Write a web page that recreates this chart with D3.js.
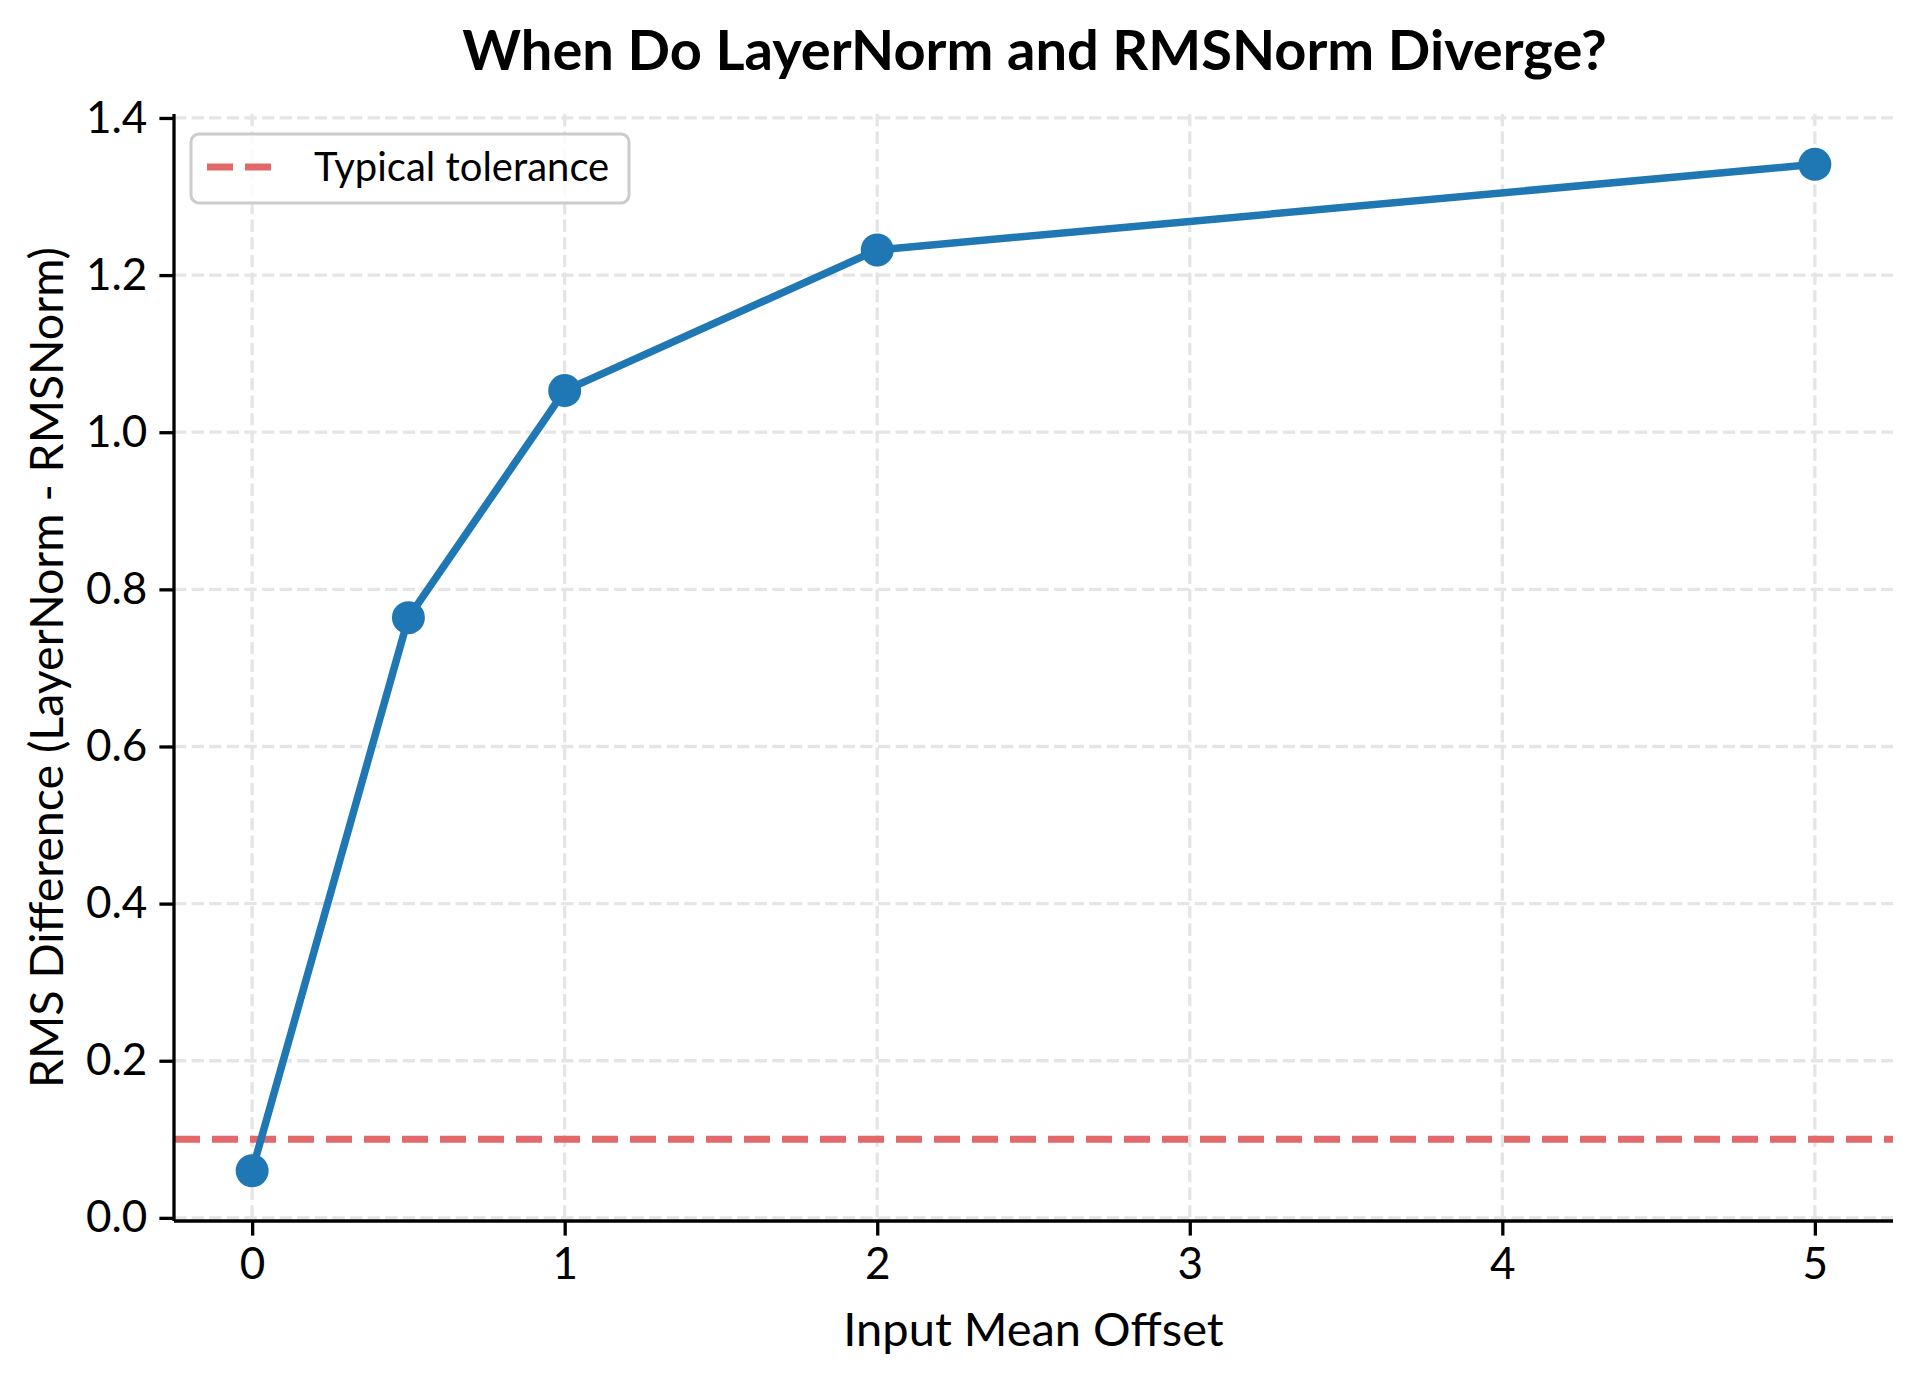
<!DOCTYPE html>
<html>
<head>
<meta charset="utf-8">
<script src="https://cdn.jsdelivr.net/npm/d3@7"></script>
<style>
  html, body { margin: 0; padding: 0; background: #ffffff; }
  svg { display: block; }
  text { font-family: Lato, "Noto Sans", sans-serif; fill: #000; }
</style>
</head>
<body>
<svg id="chart" width="1920" height="1380"></svg>
<script>
// ---- data ----
const offsets = [0, 0.5, 1, 2, 5];
const rmsDiff = [0.060, 0.764, 1.053, 1.232, 1.341];
const tolerance = 0.1;
const xTicks = [0, 1, 2, 3, 4, 5];
const yTicks = [0.0, 0.2, 0.4, 0.6, 0.8, 1.0, 1.2, 1.4];
const titleText = "When Do LayerNorm and RMSNorm Diverge?";
const xLabelText = "Input Mean Offset";
const yLabelText = "RMS Difference (LayerNorm - RMSNorm)";
const legendLabel = "Typical tolerance";

// ---- layout ----
const plotL = 174, plotR = 1893, plotT = 114, plotB = 1221;
const svg = d3.select("#chart");

const xMin = d3.min(offsets), xMax = d3.max(offsets);
const xPad = (xMax - xMin) * 0.05;
const yMax = d3.max(rmsDiff), yMinV = d3.min(rmsDiff);
const yPad = (yMax - yMinV) * 0.05;

const x = d3.scaleLinear().domain([xMin - xPad, xMax + xPad]).range([plotL, plotR]);
const y = d3.scaleLinear().domain([-0.004, yMax + yPad]).range([plotB, plotT]);

const blue = "#1f77b4";
const red = "#e26869";
const gridColor = "#e5e5e5";

// grid
const grid = svg.append("g");
grid.selectAll("line.gx").data(xTicks).join("line").attr("class", "gx")
  .attr("x1", d => x(d)).attr("x2", d => x(d))
  .attr("y1", plotT).attr("y2", plotB)
  .attr("stroke", gridColor).attr("stroke-width", 3.3)
  .attr("stroke-dasharray", "12.3,5.3");
grid.selectAll("line.gy").data(yTicks).join("line").attr("class", "gy")
  .attr("x1", plotL).attr("x2", plotR)
  .attr("y1", d => y(d)).attr("y2", d => y(d))
  .attr("stroke", gridColor).attr("stroke-width", 3.3)
  .attr("stroke-dasharray", "12.3,5.3");

// tolerance line
svg.append("line")
  .attr("x1", plotL).attr("x2", plotR)
  .attr("y1", y(tolerance)).attr("y2", y(tolerance))
  .attr("stroke", red).attr("stroke-width", 7)
  .attr("stroke-dasharray", "26,12");

// series line
const pts = offsets.map((o, i) => [o, rmsDiff[i]]);
svg.append("path")
  .datum(pts)
  .attr("fill", "none")
  .attr("stroke", blue)
  .attr("stroke-width", 7.5)
  .attr("stroke-linejoin", "round")
  .attr("stroke-linecap", "round")
  .attr("d", d3.line().x(d => x(d[0])).y(d => y(d[1])));

svg.append("g").selectAll("circle").data(pts).join("circle")
  .attr("cx", d => x(d[0])).attr("cy", d => y(d[1]))
  .attr("r", 16.5).attr("fill", blue);

// axes
const fontTick = 44;
const xAxis = d3.axisBottom(x).tickValues(xTicks).tickFormat(d3.format("d"))
  .tickSize(14.6).tickPadding(12);
const yAxis = d3.axisLeft(y).tickValues(yTicks).tickFormat(d3.format(".1f"))
  .tickSize(14.6).tickPadding(12);

const gx = svg.append("g").attr("transform", `translate(0,${plotB})`).call(xAxis);
const gy = svg.append("g").attr("transform", `translate(${plotL},0)`).call(yAxis);
[gx, gy].forEach(g => {
  g.select(".domain").attr("stroke", "#000").attr("stroke-width", 3.3);
  g.selectAll(".tick line").attr("stroke", "#000").attr("stroke-width", 3.3);
  g.selectAll(".tick text").attr("font-size", fontTick)
    .attr("font-family", "Lato, 'Noto Sans', sans-serif").attr("fill", "#000");
});
gx.select(".domain").attr("d", `M${plotL},0H${plotR}`);
gy.select(".domain").attr("d", `M0,${plotB}V${plotT}`);

// title
svg.append("text")
  .attr("x", (plotL + plotR) / 2 + 1).attr("y", 70)
  .attr("text-anchor", "middle")
  .attr("font-size", 56).attr("font-weight", "bold")
  .text(titleText);

// x label
svg.append("text")
  .attr("x", (plotL + plotR) / 2).attr("y", 1346)
  .attr("text-anchor", "middle")
  .attr("font-size", 47)
  .text(xLabelText);

// y label
svg.append("text")
  .attr("transform", `translate(63,${(plotT + plotB) / 2}) rotate(-90)`)
  .attr("text-anchor", "middle")
  .attr("font-size", 46.5)
  .text(yLabelText);

// legend
const lg = svg.append("g");
lg.append("rect")
  .attr("x", 191).attr("y", 134).attr("width", 438).attr("height", 69)
  .attr("rx", 8).attr("ry", 8)
  .attr("fill", "#ffffff").attr("fill-opacity", 0.8)
  .attr("stroke", "#cccccc").attr("stroke-width", 3);
lg.append("line")
  .attr("x1", 207).attr("x2", 274).attr("y1", 167).attr("y2", 167)
  .attr("stroke", red).attr("stroke-width", 7)
  .attr("stroke-dasharray", "26,12");
lg.append("text")
  .attr("x", 314).attr("y", 181)
  .attr("font-size", 40)
  .text(legendLabel);
</script>
</body>
</html>
